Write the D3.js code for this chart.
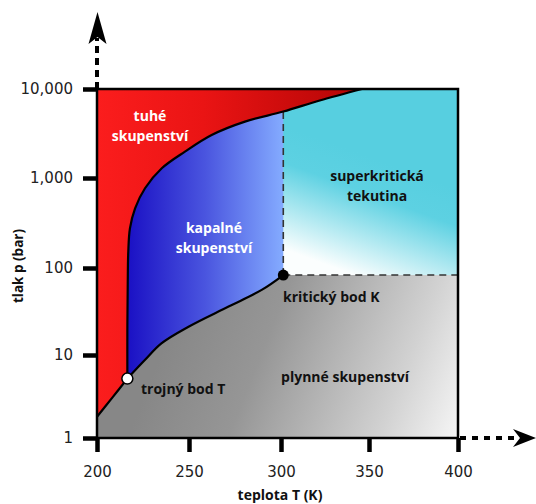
<!DOCTYPE html>
<html>
<head>
<meta charset="utf-8">
<script src="https://cdn.jsdelivr.net/npm/d3@7"></script>
<style>
  body { margin: 0; background: #fff; }
  svg { display: block; }
</style>
</head>
<body>
<div id="container"></div>
<script>
const w = 536;
const h = 504;

// phase boundaries, [T (K), p (bar)]
const sublimation = [[200, 1.8], [208, 3.0], [216.5, 5.2]];
const vaporization = [[216.5, 5.2], [226, 8.7], [235, 13.6], [249.5, 21], [271.5, 36], [289.5, 56], [301.3, 83]];
const melting = [[216.5, 5.2], [216.5, 20], [216.7, 64], [217, 152], [217.9, 276], [220.7, 461], [226.1, 769],
  [235.2, 1285], [247.8, 1977], [262.3, 3041], [280.4, 4300], [301.3, 5580], [322, 7430], [346, 10000]];
const triple = [216.5, 5.2];
const critical = [301.3, 83];

const xTicks = [200, 250, 300, 350, 400];
const yTicks = [1, 10, 100, 1000, 10000];

const x = d3.scaleLinear().domain(xTicks).range([97, 189, 281, 369, 458]);
const y = d3.scaleLog().domain(yTicks).range([438, 355, 268, 178, 89]);

const svg = d3.select('#container')
  .append('svg')
  .attr('width', w)
  .attr('height', h)
  .attr('viewBox', [0, 0, w, h]);

const defs = svg.append('defs');

function grad(id, x1, y1, x2, y2, stops) {
  const g = defs.append('linearGradient')
    .attr('id', id)
    .attr('gradientUnits', 'userSpaceOnUse')
    .attr('x1', x1).attr('y1', y1).attr('x2', x2).attr('y2', y2);
  stops.forEach(s => g.append('stop').attr('offset', s[0]).attr('stop-color', s[1]));
}

grad('gRed', x(200), 0, x(346), 0, [[0, '#fb1d1d'], [0.4, '#ea1414'], [1, '#b30505']]);
grad('gBlue', x(216.5), 0, x(critical[0]), 0, [[0, '#1a10c4'], [0.5, '#4a55df'], [1, '#84abff']]);
grad('gCyan', 392, 165, 352, 274, [[0, '#57cfe0'], [0.3, '#5dd1e2'], [1, '#fbfefe']]);
grad('gGray', 170, 330, 460, 445, [[0, '#878787'], [0.3, '#969696'], [0.75, '#d2d2d2'], [1, '#f8f8f8']]);

const line = d3.line()
  .x(d => x(d[0]))
  .y(d => y(d[1]))
  .curve(d3.curveCatmullRom.alpha(0.5));

const pt = d => x(d[0]) + ',' + y(d[1]);
const join = pts => 'L' + line(pts).slice(1);

const subPath = line(sublimation);
const vapPath = line(vaporization);
const meltPath = line(melting);

// gas
const gasD = 'M' + pt([200, 1]) + join(sublimation) + join(vaporization) +
  'L' + pt([400, critical[1]]) + 'L' + pt([400, 1]) + 'Z';
// liquid + supercritical
const fluidD = line(vaporization) + 'L' + pt([400, critical[1]]) + 'L' + pt([400, 10000]) +
  'L' + pt([346, 10000]) + join(melting.slice().reverse()) + 'Z';
// solid
const solidD = 'M' + pt([200, 10000]) + join(sublimation) + join(melting) + 'Z';

defs.append('clipPath').attr('id', 'clipLiquid')
  .append('rect')
  .attr('x', x(200)).attr('y', y(10000))
  .attr('width', x(critical[0]) - x(200)).attr('height', y(1) - y(10000));

svg.append('path').attr('d', fluidD).attr('fill', 'url(#gCyan)');
svg.append('path').attr('d', fluidD).attr('fill', 'url(#gBlue)').attr('clip-path', 'url(#clipLiquid)');
svg.append('path').attr('d', solidD).attr('fill', 'url(#gRed)');
svg.append('path').attr('d', gasD).attr('fill', 'url(#gGray)');

// dashed lines from critical point
const meltAtTc = melting.find(d => d[0] === critical[0]);
svg.append('path')
  .attr('d', 'M' + pt(critical) + 'L' + pt(meltAtTc) + 'M' + pt(critical) + 'L' + pt([400, critical[1]]))
  .attr('fill', 'none')
  .attr('stroke', '#333')
  .attr('stroke-width', 1.6)
  .attr('stroke-dasharray', '7,5');

// boundaries
[subPath, vapPath, meltPath].forEach(d => {
  svg.append('path')
    .attr('d', d)
    .attr('fill', 'none')
    .attr('stroke', '#000')
    .attr('stroke-width', 2.2);
});

// frame
svg.append('rect')
  .attr('x', x(200)).attr('y', y(10000))
  .attr('width', x(400) - x(200)).attr('height', y(1) - y(10000))
  .attr('fill', 'none')
  .attr('stroke', '#000')
  .attr('stroke-width', 2.5);

// axes
const yAxis = svg.append('g')
  .attr('transform', 'translate(' + x(200) + ',0)')
  .call(d3.axisLeft(y).tickValues(yTicks).tickFormat(d3.format(',')).tickSize(14).tickPadding(10));
const xAxis = svg.append('g')
  .attr('transform', 'translate(0,' + y(1) + ')')
  .call(d3.axisBottom(x).tickValues(xTicks).tickSize(14).tickPadding(14));

[yAxis, xAxis].forEach(a => {
  a.select('.domain').remove();
  a.selectAll('.tick line').attr('stroke', '#000').attr('stroke-width', 4.5);
  a.selectAll('.tick text')
    .attr('fill', '#222')
    .style('font-family', '"DejaVu Sans", sans-serif')
    .style('font-size', '15px');
});

// axis arrows
svg.append('line')
  .attr('x1', x(200)).attr('y1', y(10000))
  .attr('x2', x(200)).attr('y2', 38)
  .attr('stroke', '#000').attr('stroke-width', 4).attr('stroke-dasharray', '7,5');
svg.append('path')
  .attr('d', `M${x(200) + 0.5},12 L${x(200) + 9.5},44 L${x(200) + 0.5},37 L${x(200) - 8.5},44 Z`)
  .attr('fill', '#000');
svg.append('line')
  .attr('x1', x(400) + 2).attr('y1', y(1))
  .attr('x2', 518).attr('y2', y(1))
  .attr('stroke', '#000').attr('stroke-width', 4).attr('stroke-dasharray', '6,6');
svg.append('path')
  .attr('d', `M536,${y(1)} L513,${y(1) - 9} L520,${y(1)} L513,${y(1) + 9} Z`)
  .attr('fill', '#000');

// points
svg.append('circle')
  .attr('cx', x(critical[0])).attr('cy', y(critical[1])).attr('r', 5.5)
  .attr('fill', '#000');
svg.append('circle')
  .attr('cx', x(triple[0])).attr('cy', y(triple[1])).attr('r', 5.5)
  .attr('fill', '#fff').attr('stroke', '#000').attr('stroke-width', 1.5);

// labels
const labels = [
  {t: ['tuhé', 'skupenství'], x: 150, y: 121, c: '#fff', a: 'middle'},
  {t: ['kapalné', 'skupenství'], x: 214, y: 233, c: '#fff', a: 'middle'},
  {t: ['superkritická', 'tekutina'], x: 377, y: 181, c: '#111', a: 'middle'},
  {t: ['kritický bod K'], x: 283, y: 302, c: '#111', a: 'start'},
  {t: ['trojný bod T'], x: 141, y: 394, c: '#111', a: 'start'},
  {t: ['plynné skupenství'], x: 345, y: 382, c: '#111', a: 'middle'}
];

labels.forEach(l => {
  const t = svg.append('text')
    .attr('x', l.x).attr('y', l.y)
    .attr('fill', l.c)
    .attr('text-anchor', l.a)
    .style('font-family', '"Open Sans", sans-serif')
    .style('font-weight', 700)
    .style('font-size', '14px');
  l.t.forEach((s, i) => t.append('tspan').attr('x', l.x).attr('dy', i ? 20 : 0).text(s));
});

svg.append('text')
  .attr('transform', 'translate(23,266) rotate(-90)')
  .attr('text-anchor', 'middle')
  .attr('fill', '#111')
  .style('font-family', '"Open Sans", sans-serif')
  .style('font-weight', 700)
  .style('font-size', '13.5px')
  .text('tlak p (bar)');

svg.append('text')
  .attr('x', 280).attr('y', 500)
  .attr('text-anchor', 'middle')
  .attr('fill', '#111')
  .style('font-family', '"Open Sans", sans-serif')
  .style('font-weight', 700)
  .style('font-size', '14px')
  .text('teplota T (K)');
</script>
</body>
</html>
